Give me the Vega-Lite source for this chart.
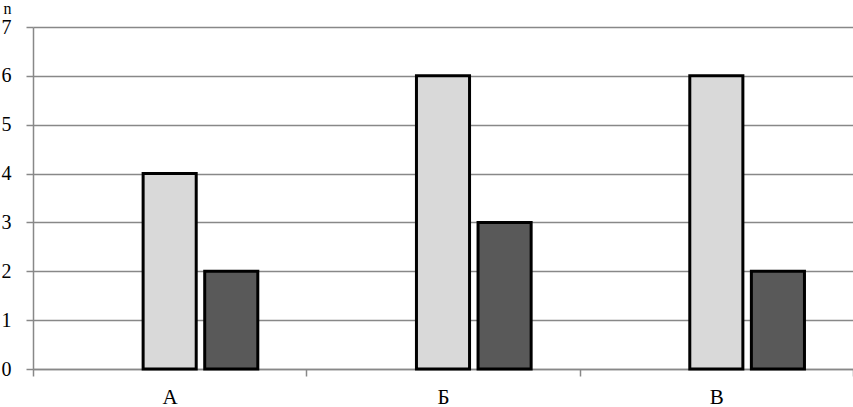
{
  "$schema": "https://vega.github.io/schema/vega-lite/v6.json",
  "autosize": {"type": "none"},
  "width": 820,
  "height": 342,
  "padding": {"left": 33, "top": 27, "right": 0, "bottom": 38},
  "background": "white",
  "config": {"view": {"stroke": null}},
  "data": {
    "values": [
      {"cat": "А", "series": "a", "n": 4},
      {"cat": "А", "series": "b", "n": 2},
      {"cat": "Б", "series": "a", "n": 6},
      {"cat": "Б", "series": "b", "n": 3},
      {"cat": "В", "series": "a", "n": 6},
      {"cat": "В", "series": "b", "n": 2}
    ]
  },
  "mark": {"type": "bar", "stroke": "black", "strokeWidth": 3},
  "encoding": {
    "x": {
      "field": "cat",
      "type": "nominal",
      "sort": ["А", "Б", "В"],
      "scale": {"paddingInner": 0, "paddingOuter": 0},
      "axis": {
        "title": null,
        "labelAngle": 0,
        "labelFont": "Liberation Serif",
        "labelFontSize": 21,
        "labelColor": "black",
        "labelBaseline": "top",
        "labelPadding": 10,
        "tickBand": "extent",
        "tickSize": 7,
        "tickColor": "#888888",
        "domainColor": "#888888",
        "domainWidth": 1.5,
        "tickWidth": 1.5
      }
    },
    "xOffset": {
      "field": "series",
      "type": "nominal",
      "scale": {"domain": ["0", "a", "b"], "paddingInner": 0.138, "paddingOuter": 0.788}
    },
    "y": {
      "field": "n",
      "type": "quantitative",
      "scale": {"domain": [0, 7], "nice": false},
      "axis": {
        "values": [0, 1, 2, 3, 4, 5, 6, 7],
        "title": "n",
        "titleAngle": 0,
        "titleAlign": "left",
        "titleBaseline": "top",
        "titleX": -30,
        "titleY": -27,
        "titleFont": "Liberation Serif",
        "titleFontSize": 16,
        "titleFontWeight": "normal",
        "titleColor": "black",
        "labelFont": "Liberation Serif",
        "labelFontSize": 20,
        "labelColor": "black",
        "labelPadding": 15,
        "tickSize": 7,
        "tickColor": "#888888",
        "tickWidth": 1.5,
        "domainColor": "#888888",
        "domainWidth": 1.5,
        "grid": true,
        "gridColor": "#888888",
        "gridWidth": 1.5
      }
    },
    "fill": {
      "field": "series",
      "type": "nominal",
      "scale": {"domain": ["a", "b"], "range": ["#d9d9d9", "#595959"]},
      "legend": null
    }
  }
}
